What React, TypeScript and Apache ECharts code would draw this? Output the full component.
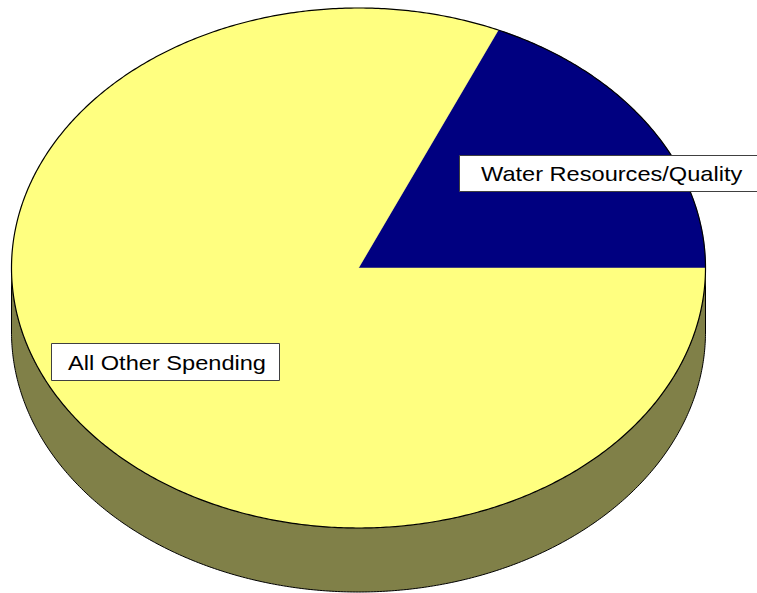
import React, { useEffect, useRef } from "react";
import * as echarts from "echarts";

const categories = ["Water Resources/Quality", "All Other Spending"];
const values = [18.4, 81.6];
const topColors = ["#000080", "#FFFF80"];
const sideColors = ["#000040", "#808048"];

export default function App() {
  const ref = useRef<HTMLDivElement>(null);
  useEffect(() => {
    const chart = echarts.init(ref.current!, undefined, { renderer: "svg" });
    const cx = 358.5, cy = 268, rx = 347, ry = 260, depth = 64;
    const total = values.reduce((a, b) => a + b, 0);
    const pt = (deg: number, dy = 0) => {
      const a = (deg * Math.PI) / 180;
      return [cx + rx * Math.cos(a), cy - ry * Math.sin(a) + dy];
    };
    const arc = (a0: number, a1: number, dy = 0) => {
      const pts: number[][] = [];
      const n = Math.max(2, Math.ceil(Math.abs(a1 - a0) * 2));
      for (let i = 0; i <= n; i++) pts.push(pt(a0 + ((a1 - a0) * i) / n, dy));
      return pts;
    };
    const renderItem = (params: any, api: any) => {
      const idx = params.dataIndex;
      let start = 0;
      for (let i = 0; i < idx; i++) start += (values[i] / total) * 360;
      const end = start + (api.value(0) / total) * 360;
      const children: any[] = [];
      const s0 = Math.max(start, 180), s1 = Math.min(end, 360);
      if (s0 < s1) {
        const topArc = arc(s0, s1);
        const botArc = arc(s1, s0, depth);
        children.push({
          type: "polygon",
          z2: 1,
          shape: { points: topArc.concat(botArc) },
          style: { fill: sideColors[idx], stroke: "#000", lineWidth: 1 },
        });
      }
      children.push({
        type: "polygon",
        z2: 5,
        shape: { points: [[cx, cy]].concat(arc(start, end)) },
        style: { fill: topColors[idx], stroke: topColors[idx], lineWidth: 0.5 },
      });
      children.push({
        type: "polyline",
        z2: 6,
        shape: { points: arc(start, end) },
        style: { fill: null, stroke: "#000", lineWidth: 1.2 },
      });
      return { type: "group", children };
    };
    const font = "20px 'Liberation Sans', Arial, sans-serif";
    chart.setOption({
      animation: false,
      backgroundColor: "#fff",
      series: [
        {
          type: "custom",
          coordinateSystem: "none",
          z: 2,
          renderItem,
          data: values.map((v, i) => ({ name: categories[i], value: [v] })),
        },
      ],
      graphic: [
        {
          type: "rect",
          z: 100,
          shape: { x: 459.5, y: 155.5, width: 310, height: 36 },
          style: { fill: "#fff", stroke: "#404040", lineWidth: 1 },
        },
        {
          type: "text",
          z: 101,
          x: 481,
          y: 174,
          scaleX: 1.18,
          style: { text: categories[0], fill: "#000", font, verticalAlign: "middle" },
        },
        {
          type: "rect",
          z: 100,
          shape: { x: 51.5, y: 343.5, width: 228, height: 37 },
          style: { fill: "#fff", stroke: "#404040", lineWidth: 1 },
        },
        {
          type: "text",
          z: 101,
          x: 68,
          y: 363,
          scaleX: 1.18,
          style: { text: categories[1], fill: "#000", font, verticalAlign: "middle" },
        },
      ],
    });
    return () => chart.dispose();
  }, []);
  return (
    <div
      ref={ref}
      style={{ position: "absolute", left: 0, top: 0, width: 757, height: 593 }}
    />
  );
}
